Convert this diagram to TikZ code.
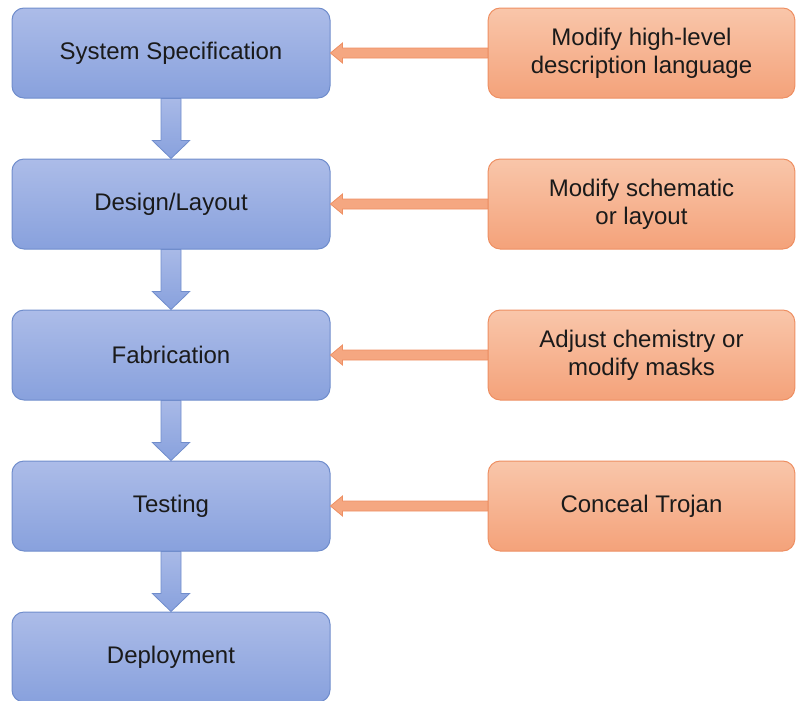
\documentclass[tikz,border=0pt]{standalone}
\usepackage{fontspec}
\setmainfont{Liberation Sans}
\usetikzlibrary{shapes.geometric, arrows}

\definecolor{stepTop}{RGB}{172,188,232}
\definecolor{stepBot}{RGB}{136,161,221}
\definecolor{stepLine}{RGB}{112,141,204}
\definecolor{attTop}{RGB}{249,198,170}
\definecolor{attBot}{RGB}{244,162,122}
\definecolor{attLine}{RGB}{238,143,98}
\definecolor{txt}{RGB}{26,26,26}

\tikzset{
  stage/.style={draw=stepLine, line width=0.75pt, rounded corners=9pt,
    top color=stepTop, bottom color=stepBot, minimum width=238.5pt,
    minimum height=67.5pt, align=center, text=txt,
    font=\fontsize{18}{21}\selectfont},
  attack/.style={stage, draw=attLine, top color=attTop, bottom color=attBot,
    minimum width=230pt},
  flowarr/.style={draw=stepLine, line width=0.6pt, top color=stepTop!90!stepBot,
    bottom color=stepBot},
  trojarr/.style={draw=attLine, line width=0.6pt, fill=attBot!85!attTop}
}

% block arrow downwards, from #1.south to #2.north
\newcommand{\flowdown}[2]{%
  \path[flowarr] ([xshift=-7.5pt]#1.south) -- ([xshift=-7.5pt,yshift=13.5pt]#2.north)
    -- ([xshift=-14pt,yshift=13.5pt]#2.north) -- (#2.north)
    -- ([xshift=14pt,yshift=13.5pt]#2.north) -- ([xshift=7.5pt,yshift=13.5pt]#2.north)
    -- ([xshift=7.5pt]#1.south) -- cycle;}
% block arrow to the left, from #1.west to #2.east
\newcommand{\attackin}[2]{%
  \path[trojarr] ([yshift=3.75pt]#1.west) -- ([xshift=9pt,yshift=3.75pt]#2.east)
    -- ([xshift=9pt,yshift=7.5pt]#2.east) -- (#2.east)
    -- ([xshift=9pt,yshift=-7.5pt]#2.east) -- ([xshift=9pt,yshift=-3.75pt]#2.east)
    -- ([yshift=-3.75pt]#1.west) -- cycle;}

\begin{document}
\begin{tikzpicture}[x=0.75pt, y=-0.75pt]
      \useasboundingbox (0,0) rectangle (796,700);

      \node[stage] (spec) at (171,53) {System Specification};
      \node[stage] (design) at (171,204) {Design/Layout};
      \node[stage] (fab) at (171,355) {Fabrication};
      \node[stage] (test) at (171,506) {Testing};
      \node[stage] (deploy) at (171,657) {Deployment};

      \node[attack] (hdl) at (641.5,53) {Modify high-level\\description language};
      \node[attack] (schem) at (641.5,204) {Modify schematic\\or layout};
      \node[attack] (chem) at (641.5,355) {Adjust chemistry or\\modify masks};
      \node[attack] (conceal) at (641.5,506) {Conceal Trojan};

      \flowdown{spec}{design}
      \flowdown{design}{fab}
      \flowdown{fab}{test}
      \flowdown{test}{deploy}

      \attackin{hdl}{spec}
      \attackin{schem}{design}
      \attackin{chem}{fab}
      \attackin{conceal}{test}
\end{tikzpicture}
\end{document}
